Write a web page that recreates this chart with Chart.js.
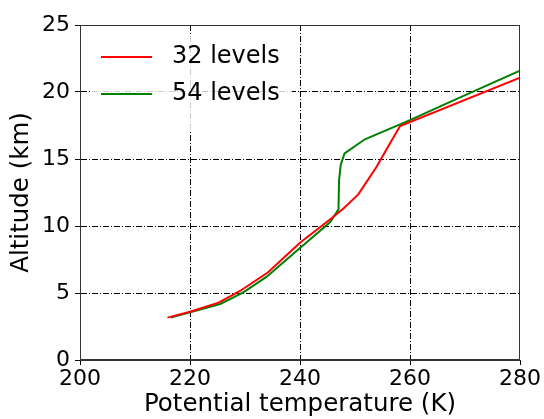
<!DOCTYPE html>
<html><head><meta charset="utf-8">
<script src="https://cdn.jsdelivr.net/npm/chart.js@4/dist/chart.umd.min.js"></script>
<style>html,body{margin:0;padding:0;background:#fff}#wrap{width:544px;height:419px}</style>
</head><body><div id="wrap"><canvas id="c" width="544" height="419"></canvas></div>
<script>
const seriesLabels = ["32 levels", "54 levels"];
const temp32 = [215.9, 220.0, 225.2, 229.1, 234.2, 240.0, 245.8, 247.9, 250.6, 253.9, 256.4, 258.2, 280.0];
const alt32  = [3.16, 3.6, 4.28, 5.15, 6.55, 8.75, 10.6, 11.3, 12.36, 14.4, 16.2, 17.46, 21.07];
const temp54 = [216.5, 225.5, 229.7, 233.9, 240.0, 245.5, 247.0, 247.1, 247.4, 248.1, 251.8, 260.0, 266.7, 274.0, 280.0];
const alt54  = [3.16, 4.18, 5.05, 6.2, 8.35, 10.3, 11.24, 13.43, 14.55, 15.42, 16.47, 17.9, 19.15, 20.5, 21.6];
const xTicks = [200, 220, 240, 260, 280];
const yTicks = [0, 5, 10, 15, 20, 25];
const xTitle = "Potential temperature (K)";
const yTitle = "Altitude (km)";

const FONT = "'DejaVu Sans', sans-serif";
const pts = (xs, ys) => xs.map((x, i) => ({x: x, y: ys[i]}));

const legendPlugin = {
  id: 'inLegend',
  afterDatasetsDraw(chart) {
    const ctx = chart.ctx, a = chart.chartArea;
    ctx.save();
    const bx = a.left + 10, by = a.top + 11, bw = 202, bh = 94, r = 4;
    ctx.fillStyle = 'rgba(255,255,255,0.8)';
    ctx.beginPath();
    ctx.moveTo(bx + r, by); ctx.lineTo(bx + bw - r, by); ctx.quadraticCurveTo(bx + bw, by, bx + bw, by + r);
    ctx.lineTo(bx + bw, by + bh - r); ctx.quadraticCurveTo(bx + bw, by + bh, bx + bw - r, by + bh);
    ctx.lineTo(bx + r, by + bh); ctx.quadraticCurveTo(bx, by + bh, bx, by + bh - r);
    ctx.lineTo(bx, by + r); ctx.quadraticCurveTo(bx, by, bx + r, by); ctx.closePath(); ctx.fill();
    chart.data.datasets.forEach((ds, i) => {
      const y = a.top + 32 + i * 37;
      ctx.strokeStyle = ds.borderColor; ctx.lineWidth = 2; ctx.setLineDash([]);
      ctx.beginPath(); ctx.moveTo(a.left + 21, y); ctx.lineTo(a.left + 72, y); ctx.stroke();
      ctx.fillStyle = '#000'; ctx.font = "24px " + FONT;
      ctx.textBaseline = 'middle'; ctx.textAlign = 'left';
      ctx.fillText(ds.label, a.left + 92, y);
    });
    ctx.restore();
  }
};

const hideEdge = (a, b) => ctx => (ctx.tick && (ctx.tick.value === a || ctx.tick.value === b)) ? 'rgba(0,0,0,0)' : '#000';

new Chart(document.getElementById('c'), {
  type: 'scatter',
  data: { datasets: [
    { label: seriesLabels[0], data: pts(temp32, alt32), showLine: true, borderColor: '#ff0000', backgroundColor: '#ff0000', borderWidth: 2, pointRadius: 0, tension: 0 },
    { label: seriesLabels[1], data: pts(temp54, alt54), showLine: true, borderColor: '#008000', backgroundColor: '#008000', borderWidth: 2, pointRadius: 0, tension: 0 }
  ]},
  options: {
    responsive: false, animation: false, devicePixelRatio: 1,
    layout: { padding: { top: 25, right: 24, left: 0, bottom: 0 } },
    plugins: { legend: { display: false }, tooltip: { enabled: false } },
    scales: {
      x: {
        type: 'linear', min: 200, max: 280,
        afterBuildTicks: s => { s.ticks = xTicks.map(v => ({value: v})); },
        grid: { color: hideEdge(200, 280), lineWidth: 1, tickLength: 5, tickColor: '#000', tickBorderDash: [], drawTicks: true },
        border: { display: true, color: '#333', width: 1, dash: [6, 2, 1, 2] },
        ticks: { color: '#000', font: { family: FONT, size: 22 }, padding: 1, maxRotation: 0 },
        title: { display: true, text: xTitle, color: '#000', font: { family: FONT, size: 24.5 }, padding: { top: 0, bottom: 0 } },
        afterFit: s => { s.height = 59; }
      },
      y: {
        type: 'linear', min: 0, max: 25,
        afterBuildTicks: s => { s.ticks = yTicks.map(v => ({value: v})); },
        grid: { color: hideEdge(0, 25), lineWidth: 1, tickLength: 5, tickColor: '#000', tickBorderDash: [], drawTicks: true },
        border: { display: true, color: '#333', width: 1, dash: [6, 2, 1, 2] },
        ticks: { color: '#000', font: { family: FONT, size: 22 }, padding: 5 },
        title: { display: true, text: yTitle, color: '#000', font: { family: FONT, size: 24.5 }, padding: { top: 7, bottom: 0 } },
        afterFit: s => { s.width = 80; }
      }
    }
  },
  plugins: [legendPlugin, {
    id: 'frame',
    afterDraw(chart) {
      const ctx = chart.ctx, a = chart.chartArea;
      ctx.save(); ctx.strokeStyle = '#333'; ctx.lineWidth = 1; ctx.setLineDash([]);
      ctx.strokeRect(a.left + 0.5, a.top + 0.5, a.right - a.left - 1, a.bottom - a.top - 1);
      ctx.restore();
    }
  }]
});
</script>
</body></html>
